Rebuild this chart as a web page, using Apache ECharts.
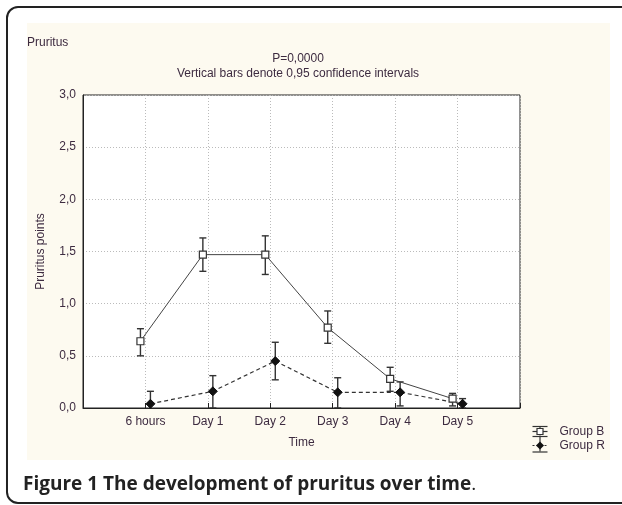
<!DOCTYPE html>
<html>
<head>
<meta charset="utf-8">
<script src="https://cdn.jsdelivr.net/npm/echarts@6/dist/echarts.min.js"></script>
<style>
html,body{margin:0;padding:0;background:#fff;}
#c{width:622px;height:505px;}
</style>
</head>
<body>
<div id="c"></div>
<script>
// ---- data ----
const categories = ['6 hours', 'Day 1', 'Day 2', 'Day 3', 'Day 4', 'Day 5'];
const groupBMean = [0.64, 1.47, 1.47, 0.77, 0.28, 0.09];
const groupBLow  = [0.50, 1.31, 1.28, 0.62, 0.16, 0.02];
const groupBHigh = [0.76, 1.63, 1.65, 0.93, 0.39, 0.14];
const groupRMean = [0.04, 0.16, 0.45, 0.15, 0.15, 0.04];
const groupRLow  = [-0.09, 0.00, 0.27, 0.00, 0.02, 0.00];
const groupRHigh = [0.16, 0.31, 0.63, 0.29, 0.25, 0.09];
const yTicks = [0, 0.5, 1.0, 1.5, 2.0, 2.5, 3.0];

const OFF_B = -0.08, OFF_R = 0.08;
const txt = '#3d2b40';
const font = 'Liberation Sans, Arial, sans-serif';
const fs = 12;

function pts(mean, off){ return mean.map((v,i)=>[i+1+off, v]); }
function bars(lo, hi, off){ return lo.map((v,i)=>[i+1+off, v, hi[i]]); }

function errRender(params, api){
  const x = api.value(0);
  const lo = api.coord([x, api.value(1)]);
  const hi = api.coord([x, api.value(2)]);
  const w = 3.5;
  const style = {stroke:'#333', lineWidth:1.4};
  return {type:'group', children:[
    {type:'line', shape:{x1:lo[0], y1:lo[1], x2:hi[0], y2:hi[1]}, style},
    {type:'line', shape:{x1:hi[0]-w, y1:hi[1], x2:hi[0]+w, y2:hi[1]}, style},
    {type:'line', shape:{x1:lo[0]-w, y1:lo[1], x2:lo[0]+w, y2:lo[1]}, style}
  ]};
}

const chart = echarts.init(document.getElementById('c'), null, {renderer:'canvas'});
chart.setOption({
  animation:false,
  backgroundColor:'#fff',
  textStyle:{fontFamily:font},
  graphic:[
    {type:'rect', z:-10, shape:{x:7, y:7, width:640, height:496, r:[11,0,0,11]}, style:{fill:'#fff', stroke:'#222', lineWidth:2}},
    {type:'rect', z:-9, shape:{x:27, y:23, width:583, height:437}, style:{fill:'#fdfaf0'}},
    {type:'text', x:23, y:485, style:{text:'{b|Figure 1 The development of pruritus over time}{n|.}', verticalAlign:'middle',
      rich:{b:{font:'bold 19px "Open Sans", sans-serif', fill:'#222'}, n:{font:'19px "Open Sans", sans-serif', fill:'#222'}}}},
    {type:'text', x:27, y:43, style:{text:'Pruritus', font:fs+'px '+font, fill:txt, verticalAlign:'middle'}},
    {type:'text', x:298, y:59, style:{text:'P=0,0000', font:fs+'px '+font, fill:txt, align:'center', verticalAlign:'middle'}},
    {type:'text', x:298, y:74, style:{text:'Vertical bars denote 0,95 confidence intervals', font:fs+'px '+font, fill:txt, align:'center', verticalAlign:'middle'}},
    // legend
    {type:'group', left:530, top:424, children:[
      {type:'line', shape:{x1:1,y1:1,x2:16,y2:1}, style:{stroke:'#333',lineWidth:1.2}},
      {type:'line', shape:{x1:8.5,y1:1,x2:8.5,y2:10}, style:{stroke:'#333',lineWidth:1.2}},
      {type:'line', shape:{x1:1,y1:6,x2:16,y2:6}, style:{stroke:'#333',lineWidth:1.2}},
      {type:'rect', shape:{x:5.5,y:3,width:6,height:6}, style:{fill:'#fff',stroke:'#333',lineWidth:1.2}},
      {type:'line', shape:{x1:1,y1:11,x2:16,y2:11}, style:{stroke:'#333',lineWidth:1.2}},
      {type:'line', shape:{x1:8.5,y1:11,x2:8.5,y2:26}, style:{stroke:'#333',lineWidth:1.2}},
      {type:'line', shape:{x1:1,y1:20,x2:16,y2:20}, style:{stroke:'#333',lineWidth:1.2, lineDash:[2,2]}},
      {type:'polygon', shape:{points:[[8.5,16],[12.5,20],[8.5,24],[4.5,20]]}, style:{fill:'#111'}},
      {type:'line', shape:{x1:1,y1:26.5,x2:16,y2:26.5}, style:{stroke:'#333',lineWidth:1.2}},
      {type:'text', x:28, y:6, style:{text:'Group B', font:fs+'px '+font, fill:txt, verticalAlign:'middle'}},
      {type:'text', x:28, y:20, style:{text:'Group R', font:fs+'px '+font, fill:txt, verticalAlign:'middle'}}
    ]}
  ],
  grid:{left:83, right:102, top:95, bottom:97, show:true, backgroundColor:'#fff', borderColor:'#222', borderWidth:1, containLabel:false},
  xAxis:{
    type:'value', min:0, max:7, interval:1,
    name:'Time', nameLocation:'middle', nameGap:29,
    nameTextStyle:{fontSize:fs, color:txt, fontFamily:font},
    axisLine:{lineStyle:{color:'#222'}},
    axisTick:{inside:true, length:5, lineStyle:{color:'#222'}},
    axisLabel:{margin:8, fontSize:fs, color:txt, fontFamily:font, formatter:v=>categories[v-1]||'', showMinLabel:true, showMaxLabel:true},
    splitLine:{show:true, lineStyle:{color:'#bbb', type:[1,2]}}
  },
  yAxis:{
    type:'value', min:yTicks[0], max:yTicks[yTicks.length-1], interval:0.5,
    name:'Pruritus points', nameLocation:'middle', nameGap:36,
    nameTextStyle:{fontSize:fs, color:txt, fontFamily:font},
    axisLine:{show:true, lineStyle:{color:'#222'}},
    axisTick:{show:false},
    axisLabel:{margin:7, fontSize:fs, color:txt, fontFamily:font, formatter:v=>v.toFixed(1).replace('.',',')},
    splitLine:{show:true, lineStyle:{color:'#bbb', type:[1,2]}}
  },
  series:[
    {type:'line', name:'Group B', data:pts(groupBMean, OFF_B), symbol:'rect', symbolSize:7, z:5,
      lineStyle:{color:'#444', width:1}, itemStyle:{color:'#fff', borderColor:'#333', borderWidth:1.2}},
    {type:'line', name:'Group R', data:pts(groupRMean, OFF_R), symbol:'diamond', symbolSize:9, z:5,
      lineStyle:{color:'#333', width:1.2, type:[4,3]}, itemStyle:{color:'#111', borderColor:'#111'}},
    {type:'custom', name:'B err', data:bars(groupBLow, groupBHigh, OFF_B), renderItem:errRender, clip:true, z:4, encode:{x:0, y:[1,2]}},
    {type:'custom', name:'R err', data:bars(groupRLow, groupRHigh, OFF_R), renderItem:errRender, clip:true, z:4, encode:{x:0, y:[1,2]}}
  ]
});
</script>
</body>
</html>
